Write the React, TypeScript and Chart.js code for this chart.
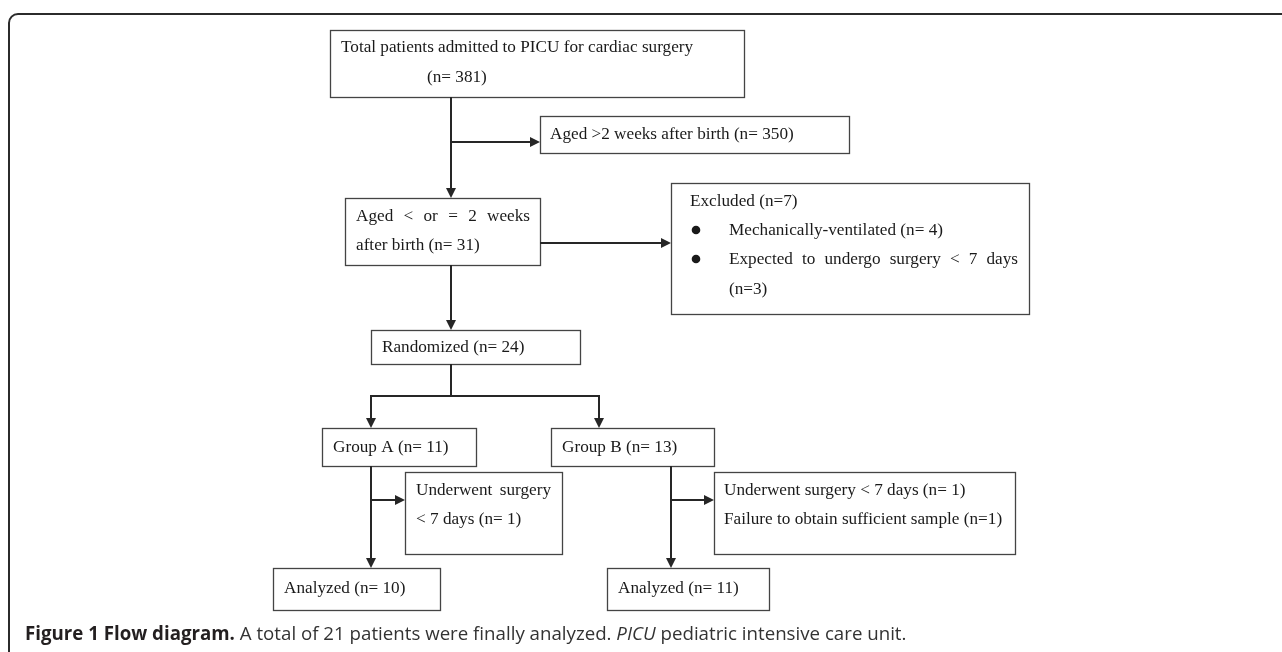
import React, { useEffect, useRef } from "react";
import { Chart, registerables } from "chart.js";

Chart.register(...registerables);

// ---------- content ----------
const totalAdmitted = 381;
const olderThan2Weeks = 350;
const youngerThan2Weeks = 31;
const excludedTotal = 7;
const excludedVentilated = 4;
const excludedEarlySurgery = 3;
const randomizedCount = 24;
const groupCounts = [11, 13];
const groupNames = ["Group A", "Group B"];
const withdrawnSurgery = [1, 1];
const withdrawnSample = [0, 1];
const analyzedCounts = [10, 11];
const captionBold = "Figure 1 Flow diagram.";
const captionText = " A total of 21 patients were finally analyzed. ";
const captionItalic = "PICU";
const captionTail = " pediatric intensive care unit.";

// ---------- layout (diagram units = page pixels) ----------
type Line = { t: string; x: number; y: number; jw?: number; bullet?: number };
const boxRects: number[][] = [
  [330, 30, 744, 97],
  [540, 116, 849, 153],
  [345, 198, 540, 265],
  [671, 183, 1029, 314],
  [371, 330, 580, 364],
  [322, 428, 476, 466],
  [551, 428, 714, 466],
  [405, 472, 562, 554],
  [714, 472, 1015, 554],
  [273, 568, 440, 610],
  [607, 568, 769, 610],
];
const boxTexts: Line[][] = [
  [
    { t: "Total patients admitted to PICU for cardiac surgery", x: 341, y: 47 },
    { t: `(n= ${totalAdmitted})`, x: 427, y: 77 },
  ],
  [{ t: `Aged >2 weeks after birth (n= ${olderThan2Weeks})`, x: 550, y: 134 }],
  [
    { t: "Aged < or = 2 weeks", x: 356, y: 216, jw: 174 },
    { t: `after birth (n= ${youngerThan2Weeks})`, x: 356, y: 245 },
  ],
  [
    { t: `Excluded (n=${excludedTotal})`, x: 690, y: 201 },
    { t: `Mechanically-ventilated (n= ${excludedVentilated})`, x: 729, y: 230, bullet: 696 },
    { t: "Expected to undergo surgery < 7 days", x: 729, y: 259, jw: 289, bullet: 696 },
    { t: `(n=${excludedEarlySurgery})`, x: 729, y: 289 },
  ],
  [{ t: `Randomized (n= ${randomizedCount})`, x: 382, y: 347 }],
  [{ t: `${groupNames[0]} (n= ${groupCounts[0]})`, x: 333, y: 447 }],
  [{ t: `${groupNames[1]} (n= ${groupCounts[1]})`, x: 562, y: 447 }],
  [
    { t: "Underwent  surgery", x: 416, y: 490, jw: 135 },
    { t: `< 7 days (n= ${withdrawnSurgery[0]})`, x: 416, y: 519 },
  ],
  [
    { t: `Underwent surgery < 7 days (n= ${withdrawnSurgery[1]})`, x: 724, y: 490 },
    { t: `Failure to obtain sufficient sample (n=${withdrawnSample[1]})`, x: 724, y: 519 },
  ],
  [{ t: `Analyzed (n= ${analyzedCounts[0]})`, x: 284, y: 588 }],
  [{ t: `Analyzed (n= ${analyzedCounts[1]})`, x: 618, y: 588 }],
];
// [x0, y0, x1, y1, arrow]
const connectors: number[][] = [
  [451, 97, 451, 198, 1],
  [451, 142, 540, 142, 1],
  [540, 243, 671, 243, 1],
  [451, 265, 451, 330, 1],
  [451, 364, 451, 396, 0],
  [370, 396, 600, 396, 0],
  [371, 396, 371, 428, 1],
  [599, 396, 599, 428, 1],
  [371, 466, 371, 568, 1],
  [371, 500, 405, 500, 1],
  [671, 466, 671, 568, 1],
  [671, 500, 714, 500, 1],
];

const SERIF = '"Liberation Serif", "Times New Roman", serif';
const SANS = '"Open Sans", "Noto Sans", sans-serif';

const flowPlugin = {
  id: "flowPlugin",
  afterDraw(chart: any) {
    const ctx: CanvasRenderingContext2D = chart.ctx;
    const xs = chart.scales.x;
    const ys = chart.scales.y;
    const px = (v: number) => xs.getPixelForValue(v);
    const py = (v: number) => ys.getPixelForValue(v);
    ctx.save();

    // outer frame (rounded, top-left visible)
    ctx.strokeStyle = "#2b2b2b";
    ctx.lineWidth = 2;
    const fx = px(9), fy = py(14), r = 9;
    ctx.beginPath();
    ctx.moveTo(fx, py(700));
    ctx.lineTo(fx, fy + r);
    ctx.arcTo(fx, fy, fx + r, fy, r);
    ctx.lineTo(px(1300), fy);
    ctx.stroke();

    // boxes
    ctx.strokeStyle = "#444";
    ctx.lineWidth = 1.3;
    boxRects.forEach((b) => {
      ctx.strokeRect(px(b[0]) + 0.5, py(b[1]) + 0.5, px(b[2]) - px(b[0]), py(b[3]) - py(b[1]));
    });

    // connectors
    ctx.strokeStyle = "#262626";
    ctx.fillStyle = "#262626";
    ctx.lineWidth = 2;
    connectors.forEach((c) => {
      const x0 = px(c[0]), y0 = py(c[1]), x1 = px(c[2]), y1 = py(c[3]);
      const ang = Math.atan2(y1 - y0, x1 - x0);
      const L = c[4] ? 10 : 0;
      ctx.beginPath();
      ctx.moveTo(x0, y0);
      ctx.lineTo(x1 - Math.cos(ang) * L, y1 - Math.sin(ang) * L);
      ctx.stroke();
      if (c[4]) {
        const w = 5;
        ctx.beginPath();
        ctx.moveTo(x1, y1);
        ctx.lineTo(x1 - Math.cos(ang) * L - Math.sin(ang) * w, y1 - Math.sin(ang) * L + Math.cos(ang) * w);
        ctx.lineTo(x1 - Math.cos(ang) * L + Math.sin(ang) * w, y1 - Math.sin(ang) * L - Math.cos(ang) * w);
        ctx.closePath();
        ctx.fill();
      }
    });

    // texts
    ctx.fillStyle = "#1a1a1a";
    ctx.font = `17.2px ${SERIF}`;
    ctx.textBaseline = "middle";
    ctx.textAlign = "left";
    boxTexts.forEach((lines) => {
      lines.forEach((ln) => {
        const x = px(ln.x), y = py(ln.y);
        if (ln.bullet !== undefined) {
          ctx.beginPath();
          ctx.arc(px(ln.bullet), y, 4.3, 0, Math.PI * 2);
          ctx.fill();
        }
        if (ln.jw) {
          const words = ln.t.split(/ +/);
          const total = words.reduce((s, w) => s + ctx.measureText(w).width, 0);
          const gap = (px(ln.x + ln.jw) - x - total) / (words.length - 1);
          let cx = x;
          words.forEach((w) => {
            ctx.fillText(w, cx, y);
            cx += ctx.measureText(w).width + gap;
          });
        } else {
          ctx.fillText(ln.t, x, y);
        }
      });
    });

    // caption
    const cy = py(635);
    let cx = px(25);
    const cs = 18.7;
    ctx.textBaseline = "middle";
    ctx.font = `bold ${cs}px ${SANS}`;
    ctx.fillStyle = "#231f20";
    ctx.fillText(captionBold, cx, cy);
    cx += ctx.measureText(captionBold).width;
    ctx.font = `${cs}px ${SANS}`;
    ctx.fillStyle = "#333";
    ctx.fillText(captionText, cx, cy);
    cx += ctx.measureText(captionText).width;
    ctx.font = `italic ${cs}px ${SANS}`;
    ctx.fillText(captionItalic, cx, cy);
    cx += ctx.measureText(captionItalic).width;
    ctx.font = `${cs}px ${SANS}`;
    ctx.fillText(captionTail, cx, cy);

    ctx.restore();
  },
};

export default function App() {
  const ref = useRef<HTMLCanvasElement | null>(null);
  useEffect(() => {
    if (!ref.current) return;
    const centers = boxRects.map((b) => ({ x: (b[0] + b[2]) / 2, y: (b[1] + b[3]) / 2 }));
    const chart = new Chart(ref.current, {
      type: "scatter",
      data: {
        datasets: [
          { data: centers, pointRadius: 0, pointHoverRadius: 0, showLine: false },
        ],
      },
      options: {
        animation: false,
        responsive: false,
        devicePixelRatio: 1,
        layout: { padding: 0 },
        events: [],
        plugins: { legend: { display: false }, tooltip: { enabled: false } },
        scales: {
          x: { type: "linear", min: 0, max: 1282, display: false },
          y: { type: "linear", min: 0, max: 652, reverse: true, display: false },
        },
      },
      plugins: [flowPlugin],
    });
    return () => chart.destroy();
  }, []);
  return (
    <div style={{ position: "absolute", left: 0, top: 0, width: 1282, height: 652, background: "#fff" }}>
      <canvas ref={ref} width={1282} height={652} style={{ display: "block" }} />
    </div>
  );
}
